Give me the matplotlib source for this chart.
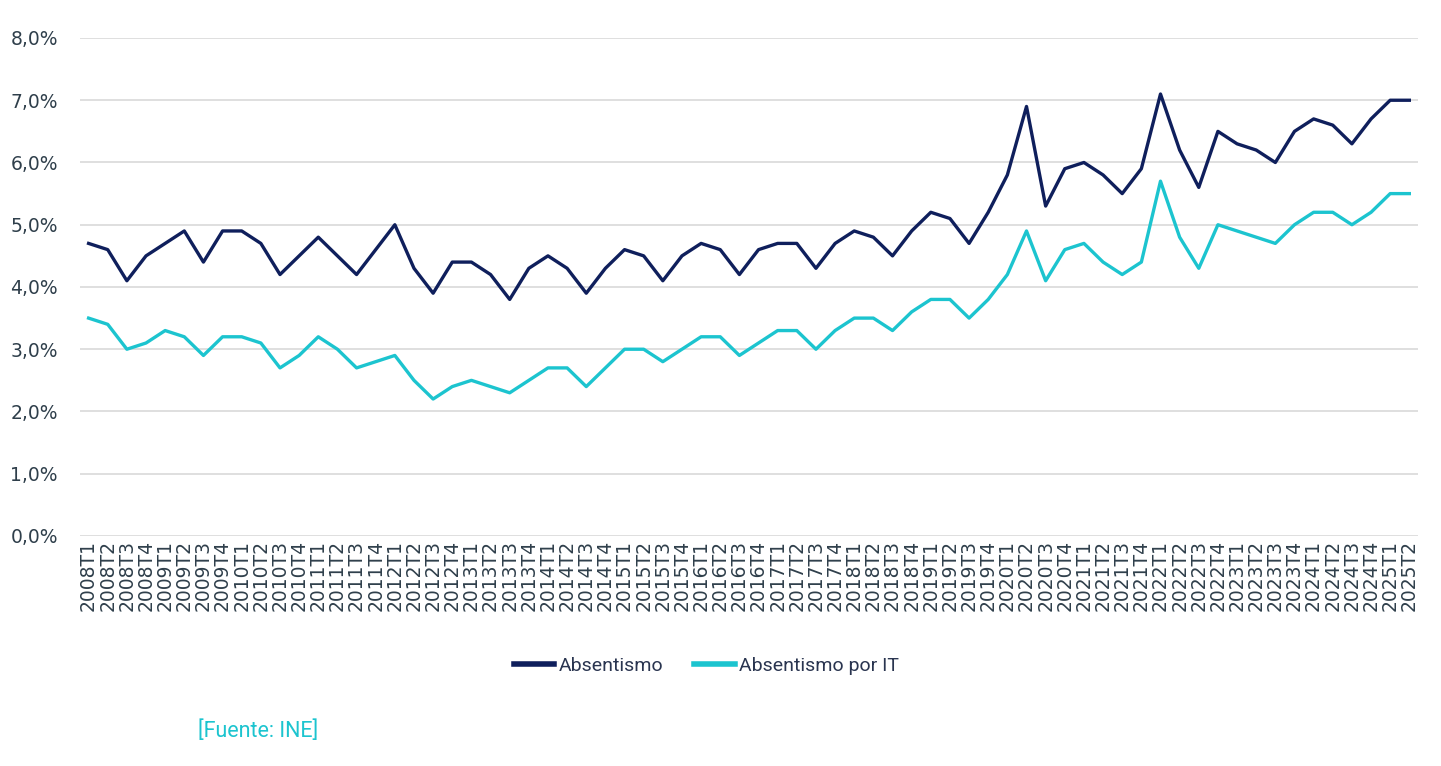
import matplotlib.pyplot as plt
from matplotlib.ticker import FuncFormatter

# trimestres 2008T1 .. 2025T2
quarters = [f"{y}T{q}" for y in range(2008, 2026) for q in range(1, 5)][:70]

absentismo = [
    4.7, 4.6, 4.1, 4.5, 4.7, 4.9, 4.4, 4.9, 4.9, 4.7,
    4.2, 4.5, 4.8, 4.5, 4.2, 4.6, 5.0, 4.3, 3.9, 4.4,
    4.4, 4.2, 3.8, 4.3, 4.5, 4.3, 3.9, 4.3, 4.6, 4.5,
    4.1, 4.5, 4.7, 4.6, 4.2, 4.6, 4.7, 4.7, 4.3, 4.7,
    4.9, 4.8, 4.5, 4.9, 5.2, 5.1, 4.7, 5.2, 5.8, 6.9,
    5.3, 5.9, 6.0, 5.8, 5.5, 5.9, 7.1, 6.2, 5.6, 6.5,
    6.3, 6.2, 6.0, 6.5, 6.7, 6.6, 6.3, 6.7, 7.0, 7.0,
]

absentismo_it = [
    3.5, 3.4, 3.0, 3.1, 3.3, 3.2, 2.9, 3.2, 3.2, 3.1,
    2.7, 2.9, 3.2, 3.0, 2.7, 2.8, 2.9, 2.5, 2.2, 2.4,
    2.5, 2.4, 2.3, 2.5, 2.7, 2.7, 2.4, 2.7, 3.0, 3.0,
    2.8, 3.0, 3.2, 3.2, 2.9, 3.1, 3.3, 3.3, 3.0, 3.3,
    3.5, 3.5, 3.3, 3.6, 3.8, 3.8, 3.5, 3.8, 4.2, 4.9,
    4.1, 4.6, 4.7, 4.4, 4.2, 4.4, 5.7, 4.8, 4.3, 5.0,
    4.9, 4.8, 4.7, 5.0, 5.2, 5.2, 5.0, 5.2, 5.5, 5.5,
]

navy = "#0f1f5c"
cyan = "#1cc4cf"
text_col = "#2f3f4b"
narrow = ["Roboto", "DejaVu Sans"]

plt.rcParams["font.family"] = ["DejaVu Sans"]

fig = plt.figure(figsize=(14.41, 7.66), dpi=100)
ax = fig.add_axes([0.0555, 0.3003, 0.9285, 0.6501])

x = range(len(quarters))
ax.plot(x, absentismo, color=navy, lw=2.4, label="Absentismo")
ax.plot(x, absentismo_it, color=cyan, lw=2.4, label="Absentismo por IT")

ax.set_ylim(0, 8)
ax.set_xlim(-0.45, len(quarters) - 0.55)
ax.set_yticks(range(0, 9))
ax.yaxis.set_major_formatter(FuncFormatter(lambda v, p: f"{v:.1f}%".replace(".", ",")))
ax.set_xticks(list(x))
ax.set_xticklabels(quarters, rotation=90)
ax.tick_params(length=0, labelsize=13.5, labelcolor=text_col)
ax.tick_params(axis="y", pad=16)
ax.tick_params(axis="x", pad=3)

ax.grid(axis="y", color="#d9d9d9", lw=1.2)
ax.set_axisbelow(True)
for s in ax.spines.values():
    s.set_visible(False)

leg = fig.legend(loc="center", bbox_to_anchor=(0.49, 0.131), ncol=2, frameon=False,
                 handlelength=2.1, handletextpad=0.2, columnspacing=1.6,
                 prop={"family": narrow, "size": 14})
for line in leg.get_lines():
    line.set_linewidth(4)
for t in leg.get_texts():
    t.set_color("#2a3550")

fig.text(0.1375, 0.045, "[Fuente: INE]", color=cyan, fontsize=15.5,
         family=narrow, ha="left", va="center")

fig.savefig("out.png", dpi=100)
